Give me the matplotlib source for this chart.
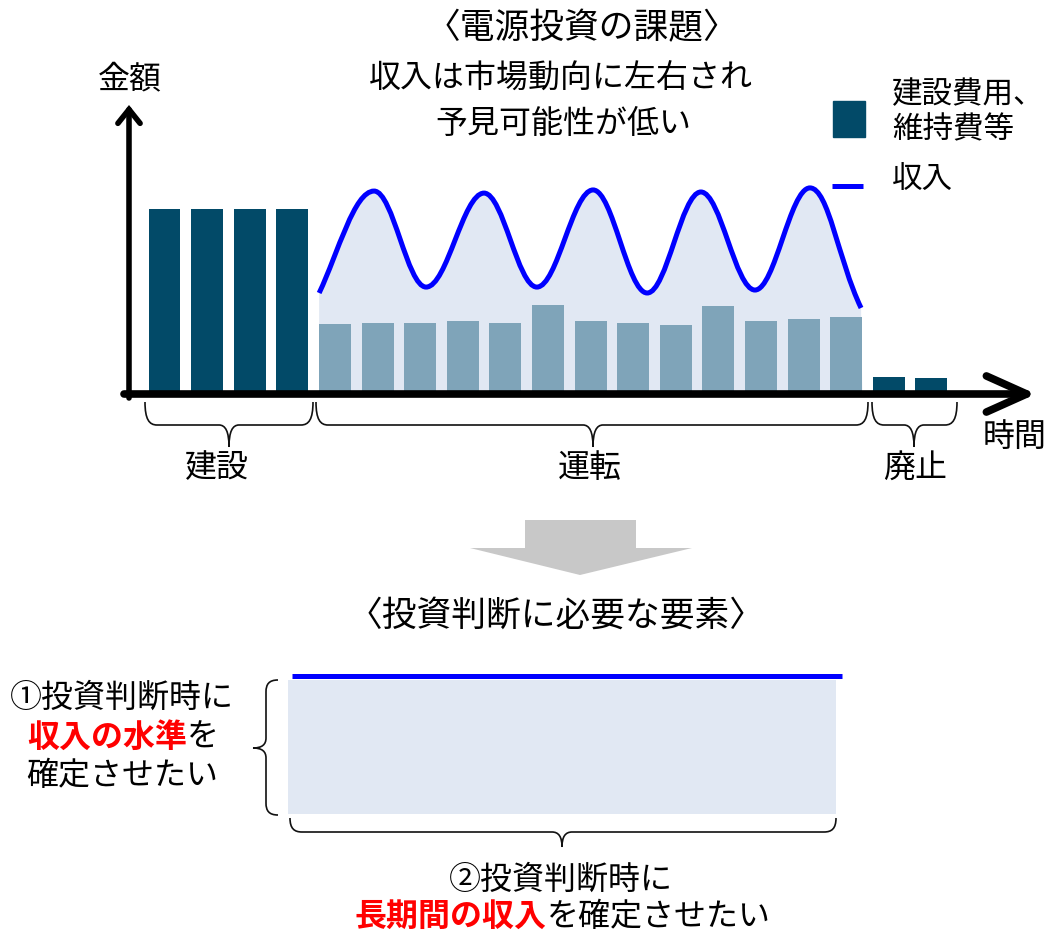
import numpy as np
import matplotlib
matplotlib.use("Agg")
import matplotlib.pyplot as plt
from matplotlib.path import Path
from matplotlib.patches import PathPatch, Rectangle, Polygon, FancyArrowPatch, ArrowStyle

plt.rcParams["font.family"] = ["Noto Sans CJK JP", "DejaVu Sans"]

# --- data (amounts in arbitrary units, time in periods) ---
construction_cost = [100, 100, 100, 100]
operation_cost = [37.8, 38.4, 38.4, 39.5, 38.4, 48.1, 39.5, 38.4, 37.3, 47.6, 39.5, 40.5, 41.6]
decommission_cost = [9.2, 8.6]
# revenue curve: start, alternating peaks / troughs, end
revenue_t = [3.63, 4.92, 6.14, 7.50, 8.74, 10.06, 11.33, 12.59, 13.86, 15.15, 16.35]
revenue = [54.6, 109.7, 57.8, 108.6, 57.8, 110.3, 54.6, 109.2, 56.2, 111.4, 46.5]
phases = ["建設", "運転", "廃止"]

DARK = "#024A68"
LIGHT = "#7FA4B9"
FILL = "#E1E8F3"
BLUE = "#0000FF"
RED = "#FF0000"

W, H = 1048, 931
fig = plt.figure(figsize=(W / 100, H / 100), dpi=100)

# main chart axes
ax = fig.add_axes([128 / W, 1 - 394 / H, (1040 - 128) / W, (394 - 103) / H])
ax.set_xlim(-0.857, 20.55)
ax.set_ylim(0, 157.3)
ax.axis("off")

t_con = np.arange(len(construction_cost))
t_op = np.arange(len(operation_cost)) + len(construction_cost)
t_dec = np.arange(len(decommission_cost)) + len(construction_cost) + len(operation_cost)
ax.bar(t_con, construction_cost, width=0.75, color=DARK, zorder=3)
ax.bar(t_op, operation_cost, width=0.75, color=LIGHT, zorder=3)
ax.bar(t_dec, decommission_cost, width=0.75, color=DARK, zorder=3)


def wave_segments(xs, ys, k=0.364):
    verts, codes = [], []
    n = len(xs)
    for i in range(n - 1):
        x0, y0, x1, y1 = xs[i], ys[i], xs[i + 1], ys[i + 1]
        dx, dy = x1 - x0, y1 - y0
        c1 = (x0 + 0.35 * dx, y0 + 0.4 * dy) if i == 0 else (x0 + k * dx, y0)
        c2 = (x1 - 0.45 * dx, y1 - 0.4 * dy) if i == n - 2 else (x1 - k * dx, y1)
        verts += [c1, c2, (x1, y1)]
        codes += [Path.CURVE4] * 3
    return verts, codes


sv, sc = wave_segments(revenue_t, revenue)
fill_path = Path([(revenue_t[0], 0), (revenue_t[0], revenue[0])] + sv + [(revenue_t[-1] + 0.03, 0), (0, 0)],
                 [Path.MOVETO, Path.LINETO] + sc + [Path.LINETO, Path.CLOSEPOLY])
ax.add_patch(PathPatch(fill_path, facecolor=FILL, edgecolor="none", zorder=1))
line_path = Path([(revenue_t[0], revenue[0])] + sv, [Path.MOVETO] + sc)
ax.add_patch(PathPatch(line_path, facecolor="none", edgecolor=BLUE, lw=3.6, zorder=2))

# overlay in pixel coordinates for the diagram parts
ov = fig.add_axes([0, 0, 1, 1])
ov.set_xlim(0, W)
ov.set_ylim(H, 0)
ov.axis("off")

# axis arrows
ov.add_patch(FancyArrowPatch((124, 394), (1036, 394), arrowstyle=ArrowStyle("->", head_length=29, head_width=13),
                             mutation_scale=1, lw=5.5, color="black", capstyle="round", joinstyle="round",
                             shrinkA=0, shrinkB=0, zorder=5))
ov.add_patch(FancyArrowPatch((129, 398), (129, 105), arrowstyle=ArrowStyle("->", head_length=10, head_width=8),
                             mutation_scale=1, lw=4, color="black", joinstyle="miter",
                             shrinkA=0, shrinkB=0, zorder=5))


def brace(axis, a, b, c, v0, vm, vt, r=12, rt=10, vertical=False, lw=1.2):
    pts = [(a, v0), (a, v0 + 0.75 * (vm - v0)), (a + 0.35 * r, vm), (a + r, vm),
           (c - rt, vm),
           (c - 0.35 * rt, vm), (c, vm + 0.3 * (vt - vm)), (c, vt),
           (c, vm + 0.3 * (vt - vm)), (c + 0.35 * rt, vm), (c + rt, vm),
           (b - r, vm),
           (b - 0.35 * r, vm), (b, v0 + 0.75 * (vm - v0)), (b, v0)]
    codes = [Path.MOVETO] + [Path.CURVE4] * 3 + [Path.LINETO] + [Path.CURVE4] * 6 + [Path.LINETO] + [Path.CURVE4] * 3
    if vertical:
        pts = [(q, p) for p, q in pts]
    axis.add_patch(PathPatch(Path(pts, codes), facecolor="none", edgecolor="#111111", lw=lw))


brace(ov, 145, 313, 229, 402, 425, 447)
brace(ov, 316, 868, 593, 402, 425, 447)
brace(ov, 872, 957, 914, 402, 425, 447)
brace(ov, 680, 815, 748, 278, 266, 253, vertical=True)
brace(ov, 290, 836, 562, 818, 832, 847)

txt = dict(color="black", ha="center", va="center")
ov.text(582, 29, "〈電源投資の課題〉", fontsize=25, **txt)
ov.text(561, 79, "収入は市場動向に左右され", fontsize=23, **txt)
ov.text(563, 124, "予見可能性が低い", fontsize=23, **txt)
ov.text(130, 79, "金額", fontsize=23, **txt)
ov.text(1015, 437, "時間", fontsize=23, **txt)
for label, x in zip(phases, [217, 590, 915]):
    ov.text(x, 468, label, fontsize=23, **txt)

# legend
ov.add_patch(Rectangle((833, 101), 32, 36, color=DARK))
ov.text(892, 95, "建設費用、", fontsize=22, color="black", ha="left", va="center")
ov.text(892, 130, "維持費等", fontsize=22, color="black", ha="left", va="center")
ov.plot([832, 863], [186, 186], color=BLUE, lw=3.6, solid_capstyle="butt")
ov.text(892, 180, "収入", fontsize=22, color="black", ha="left", va="center")

# transition arrow
ov.add_patch(Polygon([(525, 520), (636, 520), (636, 548), (692, 548), (580, 575), (470, 548), (525, 548)],
                     closed=True, facecolor="#C8C8C8", edgecolor="none"))

ov.text(556, 616, "〈投資判断に必要な要素〉", fontsize=25, **txt)

# fixed revenue block
ov.add_patch(Rectangle((288, 680), 548, 134, facecolor=FILL, edgecolor="none"))
ov.plot([292, 842], [676, 676], color=BLUE, lw=3.6, solid_capstyle="butt")

# left note
ov.text(122, 698, "①投資判断時に", fontsize=23, **txt)
r1 = ov.text(27, 738, "収入の水準", fontsize=23, color=RED, fontweight="bold", ha="left", va="center")
ov.annotate("を", xy=(1, 0), xycoords=r1, fontsize=23, color="black", ha="left", va="bottom")
ov.text(122, 776, "確定させたい", fontsize=23, **txt)

# bottom note
ov.text(561, 880, "②投資判断時に", fontsize=23, **txt)
r2 = ov.text(355, 917, "長期間の収入", fontsize=23, color=RED, fontweight="bold", ha="left", va="center")
ov.annotate("を確定させたい", xy=(1, 0), xycoords=r2, fontsize=23, color="black", ha="left", va="bottom")

fig.savefig("out.png", dpi=100)
